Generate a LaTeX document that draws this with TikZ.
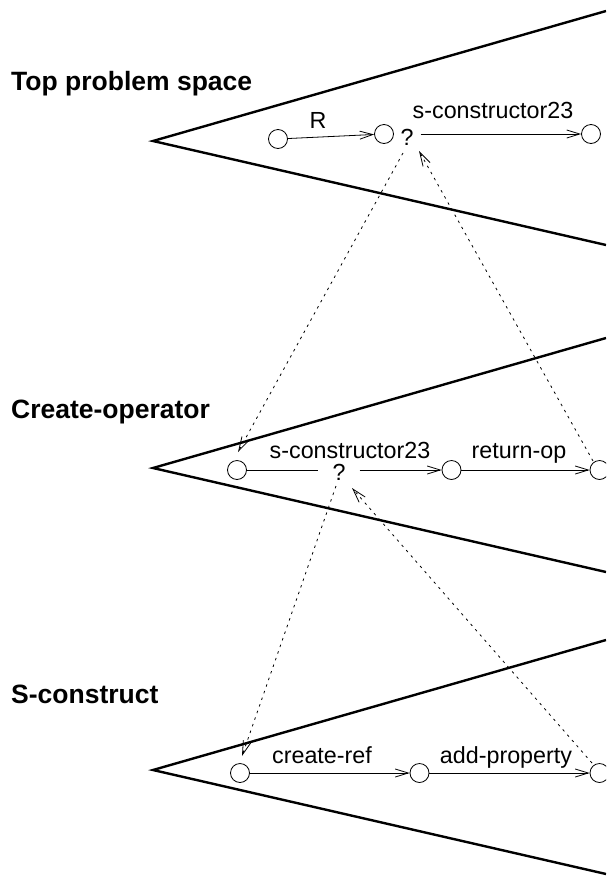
\documentclass[tikz,border=0pt]{standalone}
\usepackage{fontspec}
\setmainfont{Liberation Sans}
\usetikzlibrary{arrows.meta}
\begin{document}
\begin{tikzpicture}[x=1pt,y=-1pt,
  wedge/.style={line width=2.4pt},
  st/.style={circle,draw,line width=0.8pt,minimum size=19pt,inner sep=0pt},
  lbl/.style={font=\fontsize{23.3}{25}\selectfont,inner sep=0pt,anchor=base},
  qm/.style={font=\fontsize{23.3}{25}\selectfont,inner ysep=0pt,anchor=base},
  ttl/.style={font=\fontsize{26.5}{29}\selectfont\bfseries,inner sep=0pt,anchor=base west},
  opa/.style={line width=0.8pt,-{Straight Barb[length=13pt,width=8pt,line width=0.8pt]}},
  sub/.style={line width=0.8pt,dash pattern=on 2.5pt off 4.5pt,-{Straight Barb[length=14pt,width=8pt,line width=0.8pt]}},
]
\useasboundingbox (0,0) rectangle (606,876);
\clip (0,0) rectangle (606,876);

% wedges
\coordinate (a1) at (153,141);
\coordinate (a2) at (153,468);
\coordinate (a3) at (153,770);
\draw[wedge] (606,11) -- (a1) -- (606,245);
\draw[wedge] (606,338) -- (a2) -- (606,572);
\draw[wedge] (606,640) -- (a3) -- (606,874);

% titles
\node[ttl] (t1) at (11,90) {Top problem space};
\node[ttl] (t2) at (11,418) {Create-operator};
\node[ttl] (t3) at (11,703) {S-construct};

% top space
\node[st] (c11) at (278,139) {};
\node[st] (c12) at (384,134) {};
\node[st] (c13) at (591,134) {};
\node[qm,inner xsep=7pt] (q1) at (407,145) {?};
\draw[opa] (c11) -- (c12);
\draw[opa] (q1.east |- c13) -- (c13);
\node[lbl] (l11) at (318,128) {R};
\node[lbl] (l12) at (493,118) {s-constructor23};

% create-operator space
\node[st] (c21) at (237,470) {};
\node[st] (c22) at (451.5,470) {};
\node[st] (c23) at (599.5,470) {};
\node[qm,inner xsep=14pt] (q2) at (339,480) {?};
\draw[line width=0.8pt] (c21) -- (q2.west |- c21);
\draw[opa] (q2.east |- c21) -- (c22);
\draw[opa] (c22) -- (c23);
\node[lbl] (l21) at (350,458) {s-constructor23};
\node[lbl] (l22) at (519,458) {return-op};

% s-construct space
\node[st] (c31) at (240,773) {};
\node[st] (c32) at (419.5,773) {};
\node[st] (c33) at (599.5,773) {};
\draw[opa] (c31) -- (c32);
\draw[opa] (c32) -- (c33);
\node[lbl] (l31) at (322,763) {create-ref};
\node[lbl] (l32) at (506,763) {add-property};

% subgoal links
\coordinate (s1) at (403,153);
\coordinate (e1) at (238,452);
\coordinate (s2) at (593,461);
\coordinate (e2) at (419,151);
\coordinate (s3) at (336,486);
\coordinate (e3) at (242,756);
\coordinate (s4) at (592,763);
\coordinate (e4) at (352,488);
\draw[sub] (s1) -- (e1);
\draw[sub] (s2) -- (e2);
\draw[sub] (s3) -- (e3);
\draw[sub] (s4) -- (e4);
\end{tikzpicture}
\end{document}
